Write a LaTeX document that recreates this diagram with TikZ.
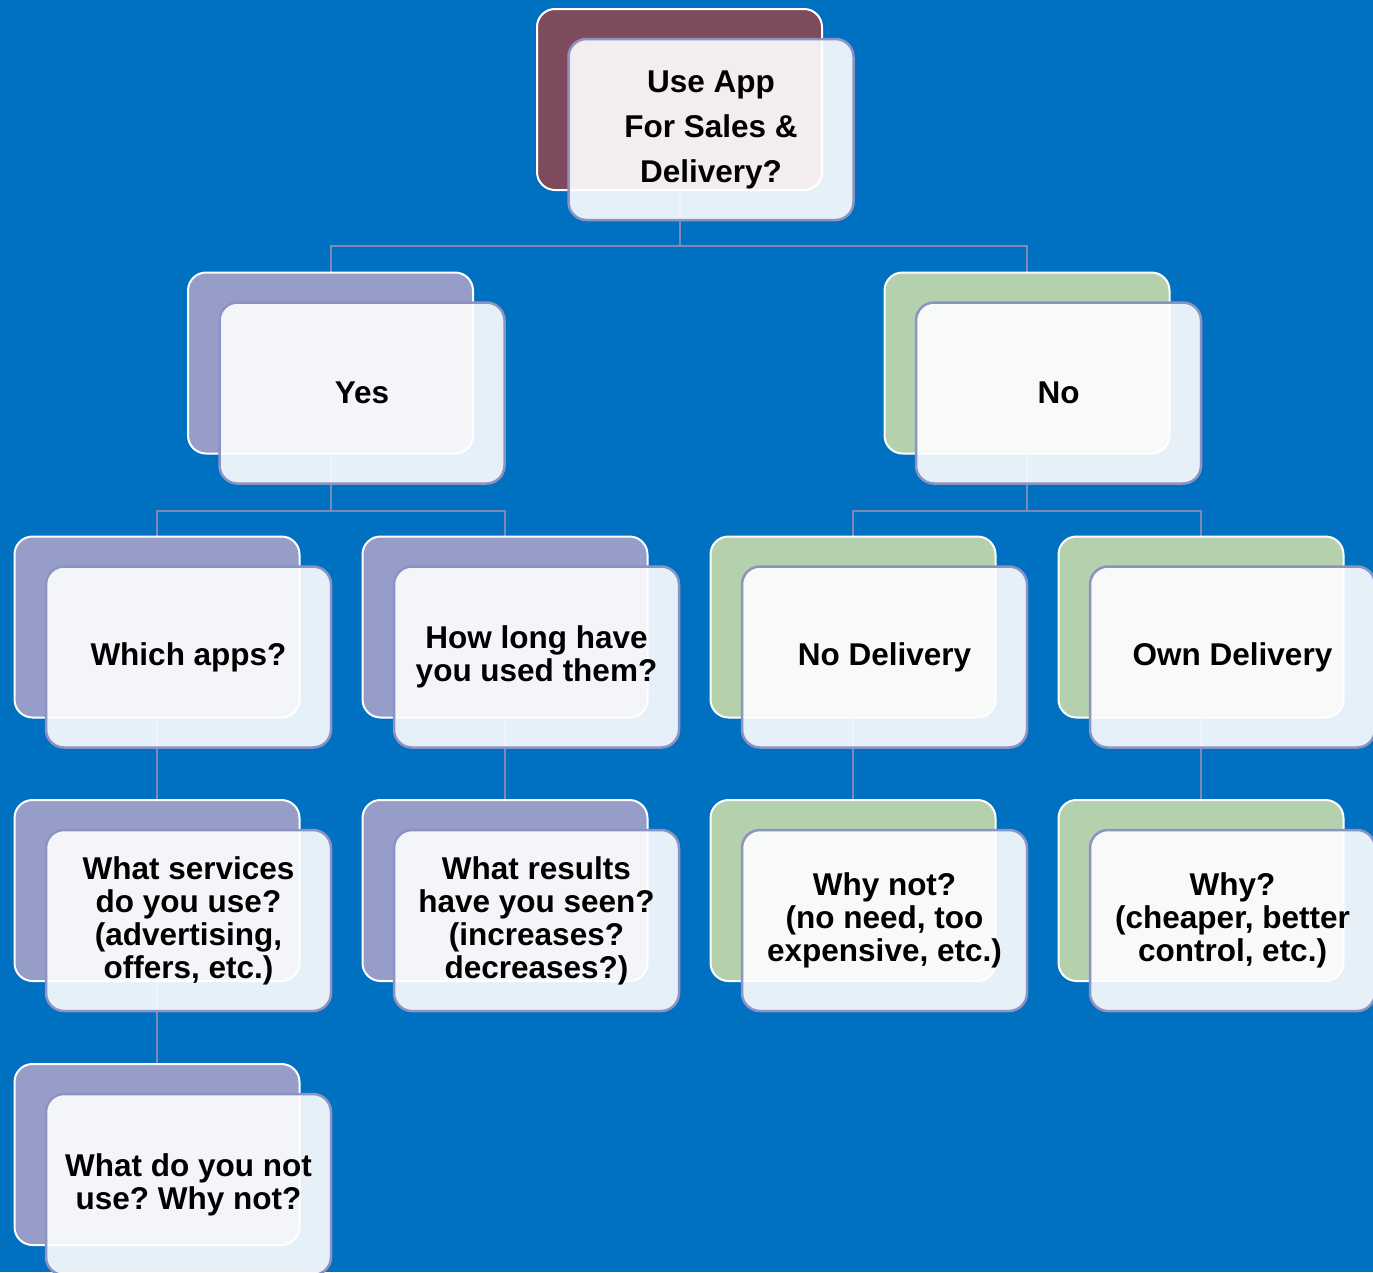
\documentclass[tikz,border=0pt]{standalone}
\usepackage{fontspec}
\setmainfont{Liberation Sans}
\frenchspacing
\pgfdeclarelayer{bg}
\pgfsetlayers{bg,main}
\definecolor{bgblue}{HTML}{0070C0}
\definecolor{maroonb}{HTML}{7E4A5E}
\definecolor{lavb}{HTML}{979DC9}
\definecolor{greenb}{HTML}{B5D0AD}
\definecolor{frontline}{HTML}{8C93C4}
\definecolor{conn}{HTML}{8088B8}
\tikzset{
  backbox/.style={draw=white, line width=2pt, rounded corners=18pt, minimum width=285pt, minimum height=181pt, inner sep=0pt, fill=#1},
  frontbox/.style={draw=frontline, line width=2.5pt, rounded corners=18pt, minimum width=285pt, minimum height=181pt, inner sep=0pt, fill=white, fill opacity=0.9, text opacity=1, align=center, font=\fontsize{31.5}{33}\selectfont\bfseries\frenchspacing},
  connector/.style={draw=conn, line width=2pt}
}
\newcommand{\qnode}[5]{%
  \node[backbox=#4] (#1b) at (#2,#3) {};
  \node[frontbox] (#1f) at ($(#2,#3)+(31.5,30)$) {#5};
}
\usetikzlibrary{calc}
\begin{document}
\begin{tikzpicture}[x=1pt,y=-1pt]
\begin{pgfonlayer}{bg}
\fill[bgblue] (0,0) rectangle (1373,1272);
\end{pgfonlayer}
\useasboundingbox (0,0) rectangle (1373,1272);
\qnode{top}{679.5}{99.5}{maroonb}{\raisebox{-2pt}{Use App}\\[12pt]\raisebox{-2pt}{For Sales \&}\\[12pt]\raisebox{-2pt}{Delivery?}}
\qnode{yes}{330.5}{363}{lavb}{\raisebox{-2pt}{Yes}}
\qnode{no}{1027}{363}{greenb}{\raisebox{-2pt}{No}}
\qnode{which}{157}{627}{lavb}{\raisebox{-2pt}{Which apps?}}
\qnode{howlong}{505}{627}{lavb}{\raisebox{-2pt}{How long have}\\\raisebox{-2pt}{you used them?}}
\qnode{nodel}{853}{627}{greenb}{\raisebox{-2pt}{No Delivery}}
\qnode{own}{1201}{627}{greenb}{\raisebox{-2pt}{Own Delivery}}
\qnode{services}{157}{890.5}{lavb}{What services\\do you use?\\(advertising,\\offers, etc.)}
\qnode{results}{505}{890.5}{lavb}{What results\\have you seen?\\(increases?\\decreases?)}
\qnode{whynot}{853}{890.5}{greenb}{Why not?\\(no need, too\\expensive, etc.)}
\qnode{why}{1201}{890.5}{greenb}{Why?\\(cheaper, better\\control, etc.)}
\qnode{notuse}{157}{1154.5}{lavb}{What do you not\\use? Why not?}
\begin{pgfonlayer}{bg}
\draw[connector] (topb.south) -- ++(0,55) -| (yesb.north);
\draw[connector] (topb.south) -- ++(0,55) -| (nob.north);
\draw[connector] (yesb.south) -- ++(0,56) -| (whichb.north);
\draw[connector] (yesb.south) -- ++(0,56) -| (howlongb.north);
\draw[connector] (nob.south) -- ++(0,56) -| (nodelb.north);
\draw[connector] (nob.south) -- ++(0,56) -| (ownb.north);
\draw[connector] (whichb.south) -- (servicesb.north);
\draw[connector] (howlongb.south) -- (resultsb.north);
\draw[connector] (nodelb.south) -- (whynotb.north);
\draw[connector] (ownb.south) -- (whyb.north);
\draw[connector] (servicesb.south) -- (notuseb.north);
\end{pgfonlayer}
\end{tikzpicture}
\end{document}
